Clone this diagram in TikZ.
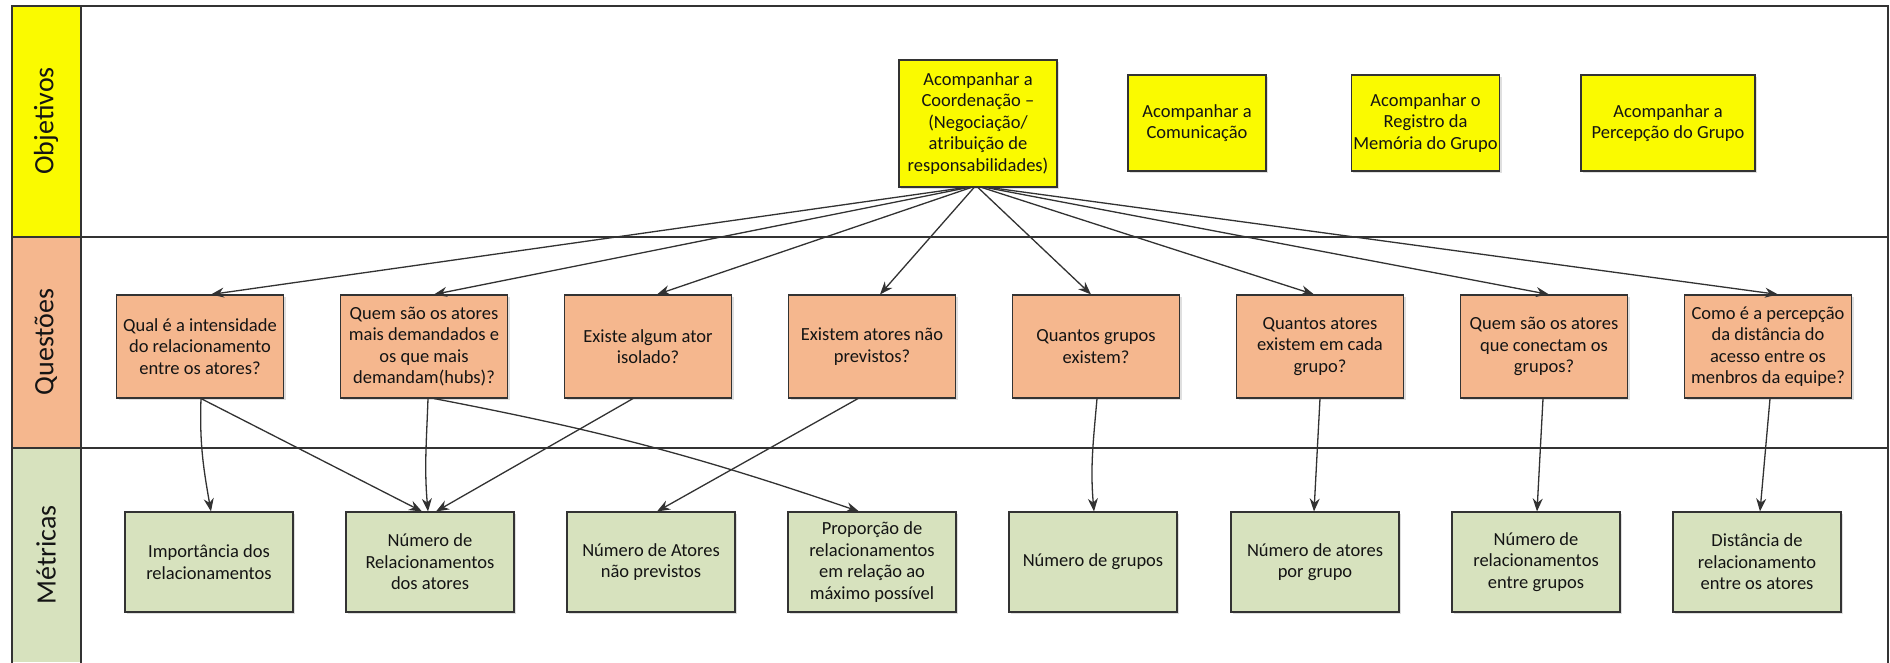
\documentclass[tikz,border=0pt]{standalone}
\usepackage{fontspec}
\setmainfont{Carlito}
\usetikzlibrary{arrows.meta,shadows,calc}
\definecolor{yel}{RGB}{250,250,0}
\definecolor{ora}{RGB}{245,183,142}
\definecolor{grn}{RGB}{215,226,190}
\definecolor{edgec}{RGB}{50,50,50}
\definecolor{txt}{RGB}{20,20,20}
\begin{document}
\begin{tikzpicture}[x=1pt,y=1pt,
 box/.style={draw=black!80, line width=1.1pt, align=center, inner sep=2pt, text=txt,
   font=\fontsize{18.5}{21.5}\selectfont,
   drop shadow={shadow xshift=2pt,shadow yshift=-2pt,opacity=0.25}},
 obj/.style={box, fill=yel, minimum height=96pt},
 qst/.style={box, fill=ora, minimum width=167pt, minimum height=103pt},
 met/.style={box, fill=grn, minimum width=168pt, minimum height=100pt},
 arr/.style={draw=edgec, line width=1.3pt, -{Stealth[length=13pt,width=10pt]}},
 lane/.style={draw=black!80, line width=1.1pt},
 lanelabel/.style={rotate=90, text=txt, font=\fontsize{28}{32}\selectfont}
]
\useasboundingbox (0,0) rectangle (1890,-662);
% lanes
\fill[white] (0,0) rectangle (1890,-662);
\fill[yel] (12,-6) rectangle (81,-237);
\fill[ora] (12,-237) rectangle (81,-448);
\fill[grn] (12,-448) rectangle (81,-662);
\draw[lane] (12,-664) -- (12,-6) -- (1888,-6) -- (1888,-664);
\draw[lane] (81,-6) -- (81,-664);
\draw[lane] (12,-237) -- (1888,-237);
\draw[lane] (12,-448) -- (1888,-448);
\node[lanelabel] (lo) at (46,-121) {Objetivos};
\node[lanelabel] (lq) at (46,-342) {Questões};
\node[lanelabel] (lm) at (46,-555) {Métricas};
% objectives
\node[obj, minimum width=158pt, minimum height=127pt] (oa) at (978,-123.5)
  {Acompanhar a\\Coordenação –\\(Negociação/\\atribuição de\\responsabilidades)};
\node[obj, minimum width=138pt] (ob) at (1197,-123) {Acompanhar a\\Comunicação};
\node[obj, minimum width=141pt] (oc) at (1425.5,-123) {Acompanhar o\\Registro da\\Memória do Grupo};
\node[obj, minimum width=174pt] (od) at (1668,-123) {Acompanhar a\\Percepção do Grupo};
% questions
\node[qst] (q1) at (200,-346.5) {Qual é a intensidade\\do relacionamento\\entre os atores?};
\node[qst] (q2) at (424,-346.5) {Quem são os atores\\mais demandados e\\os que mais\\demandam(hubs)?};
\node[qst] (q3) at (648,-346.5) {Existe algum ator\\isolado?};
\node[qst] (q4) at (872,-346.5) {Existem atores não\\previstos?};
\node[qst] (q5) at (1096,-346.5) {Quantos grupos\\existem?};
\node[qst] (q6) at (1320,-346.5) {Quantos atores\\existem em cada\\grupo?};
\node[qst] (q7) at (1544,-346.5) {Quem são os atores\\que conectam os\\grupos?};
\node[qst] (q8) at (1768,-346.5) {Como é a percepção\\da distância do\\acesso entre os\\menbros da equipe?};
% metrics
\node[met] (m1) at (209,-562) {Importância dos\\relacionamentos};
\node[met] (m2) at (430,-562) {Número de\\Relacionamentos\\dos atores};
\node[met] (m3) at (651,-562) {Número de Atores\\não previstos};
\node[met] (m4) at (872,-562) {Proporção de\\relacionamentos\\em relação ao\\máximo possível};
\node[met] (m5) at (1093,-562) {Número de grupos};
\node[met] (m6) at (1315,-562) {Número de atores\\por grupo};
\node[met] (m7) at (1536,-562) {Número de\\relacionamentos\\entre grupos};
\node[met] (m8) at (1757,-562) {Distância de\\relacionamento\\entre os atores};
% objective -> questions
\draw[arr] ([xshift=-13pt]oa.south) -- ([xshift=11pt]q1.north);
\draw[arr] ([xshift=-10pt]oa.south) -- ([xshift=10pt]q2.north);
\draw[arr] ([xshift=-7pt]oa.south) -- ([xshift=9pt]q3.north);
\draw[arr] ([xshift=-4pt]oa.south) -- ([xshift=8pt]q4.north);
\draw[arr] ([xshift=0pt]oa.south) -- ([xshift=-5pt]q5.north);
\draw[arr] ([xshift=4pt]oa.south) -- ([xshift=-6pt]q6.north);
\draw[arr] ([xshift=8pt]oa.south) -- ([xshift=5pt]q7.north);
\draw[arr] ([xshift=12pt]oa.south) -- ([xshift=10pt]q8.north);
% questions -> metrics
\draw[arr] ([xshift=1pt]q1.south) to[out=-92,in=100] ([xshift=2pt]m1.north);
\draw[arr] ([xshift=1pt]q1.south) -- ([xshift=-8pt]m2.north);
\draw[arr] ([xshift=4pt]q2.south) to[out=-92,in=95] ([xshift=-2pt]m2.north);
\draw[arr] ([xshift=10pt]q2.south) to[bend left=4] ([xshift=-13pt]m4.north);
\draw[arr] ([xshift=-15pt]q3.south) -- ([xshift=6pt]m2.north);
\draw[arr] ([xshift=-14pt]q4.south) -- ([xshift=6pt]m3.north);
\draw[arr] ([xshift=1pt]q5.south) to[out=-95,in=95] ([xshift=1pt]m5.north);
\draw[arr] ([xshift=0pt]q6.south) -- ([xshift=-1pt]m6.north);
\draw[arr] ([xshift=-1pt]q7.south) -- ([xshift=1pt]m7.north);
\draw[arr] ([xshift=2pt]q8.south) -- ([xshift=3pt]m8.north);
\end{tikzpicture}
\end{document}
